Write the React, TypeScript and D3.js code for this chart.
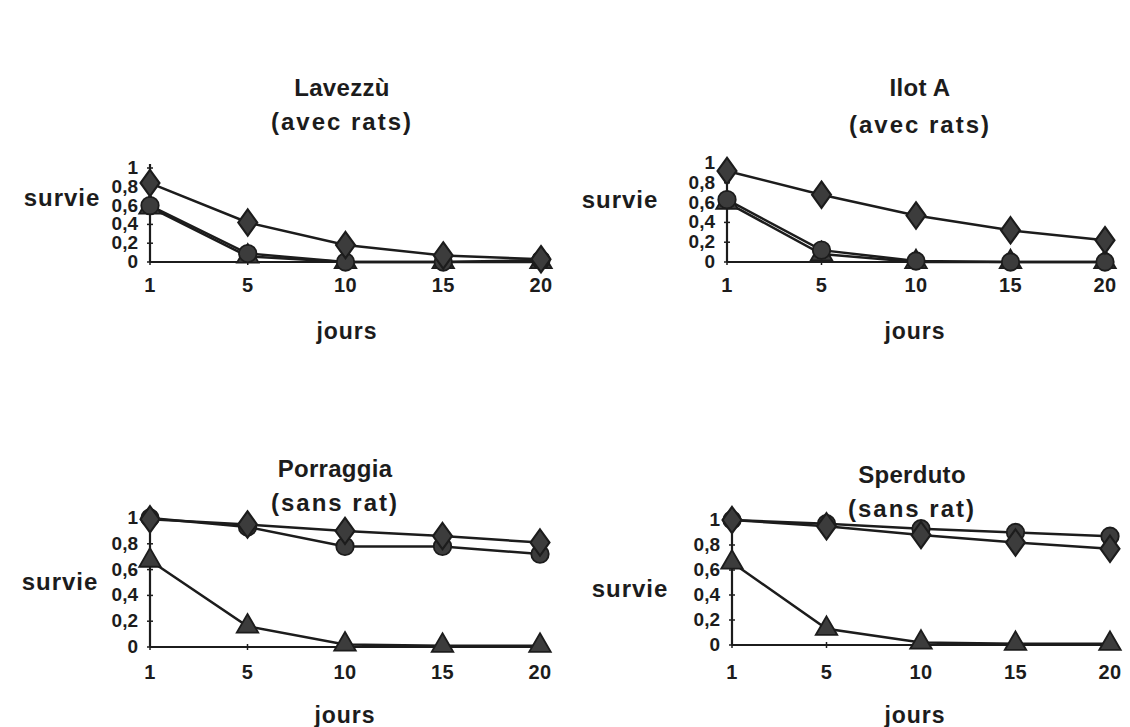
import React from "react";
import * as d3 from "d3";

const days = ["1", "5", "10", "15", "20"];
const yTicks = [0, 0.2, 0.4, 0.6, 0.8, 1];
const yTickLabels = ["0", "0,2", "0,4", "0,6", "0,8", "1"];

const titles = [
  ["Lavezzù", "(avec rats)"],
  ["Ilot A", "(avec rats)"],
  ["Porraggia", "(sans rat)"],
  ["Sperduto", "(sans rat)"],
];

// series per panel: diamond, circle, triangle
const lavezzuDiamond = [0.84, 0.42, 0.18, 0.07, 0.03];
const lavezzuCircle = [0.6, 0.09, 0.0, 0.0, 0.02];
const lavezzuTriangle = [0.58, 0.06, 0.0, 0.0, 0.0];

const ilotDiamond = [0.92, 0.68, 0.47, 0.32, 0.22];
const ilotCircle = [0.63, 0.12, 0.01, 0.0, 0.0];
const ilotTriangle = [0.6, 0.08, 0.0, 0.0, 0.0];

const porraggiaDiamond = [0.99, 0.95, 0.9, 0.86, 0.81];
const porraggiaCircle = [1.0, 0.93, 0.78, 0.78, 0.72];
const porraggiaTriangle = [0.67, 0.16, 0.02, 0.01, 0.01];

const sperdutoDiamond = [1.0, 0.95, 0.88, 0.82, 0.77];
const sperdutoCircle = [1.0, 0.97, 0.93, 0.9, 0.87];
const sperdutoTriangle = [0.66, 0.13, 0.02, 0.01, 0.01];

const panelData = [
  { diamond: lavezzuDiamond, circle: lavezzuCircle, triangle: lavezzuTriangle },
  { diamond: ilotDiamond, circle: ilotCircle, triangle: ilotTriangle },
  { diamond: porraggiaDiamond, circle: porraggiaCircle, triangle: porraggiaTriangle },
  { diamond: sperdutoDiamond, circle: sperdutoCircle, triangle: sperdutoTriangle },
];

// layout
const layouts = [
  { x0: 150, x1: 541, y0: 262, y1: 168, titleX: 342, t1: 96, t2: 130, survieX: 62, survieY: 206, joursX: 347, joursY: 339, xLabY: 292 },
  { x0: 727, x1: 1105, y0: 262, y1: 163, titleX: 920, t1: 96, t2: 133, survieX: 620, survieY: 208, joursX: 915, joursY: 339, xLabY: 292 },
  { x0: 150, x1: 540, y0: 647, y1: 518, titleX: 335, t1: 477, t2: 511, survieX: 60, survieY: 590, joursX: 345, joursY: 723, xLabY: 679 },
  { x0: 732, x1: 1110, y0: 645, y1: 520, titleX: 912, t1: 483, t2: 517, survieX: 630, survieY: 597, joursX: 915, joursY: 723, xLabY: 679 },
];

const FONT = "'Liberation Sans', Arial, Helvetica, sans-serif";
const INK = "#1c1c1c";
const FILL = "#3c3c3c";

function Marker({ kind, x, y }: { kind: string; x: number; y: number }) {
  let type = d3.symbolDiamond;
  let size = 200;
  if (kind === "circle") { type = d3.symbolCircle; size = 240; }
  if (kind === "triangle") { type = d3.symbolTriangle; size = 200; }
  const path = d3.symbol().type(type).size(size)() as string;
  const t = kind === "diamond" ? `translate(${x},${y}) scale(1.25,1)` : `translate(${x},${y})`;
  return <path d={path} transform={t} fill={FILL} stroke={INK} strokeWidth={1.8} />;
}

function Panel({ idx }: { idx: number }) {
  const L = layouts[idx];
  const D = panelData[idx];
  const x = d3.scalePoint<string>().domain(days).range([L.x0, L.x1]);
  const y = d3.scaleLinear().domain([0, 1]).range([L.y0, L.y1]);
  const line = d3
    .line<number>()
    .x((_, i) => x(days[i]) as number)
    .y((v) => y(v));
  const order: [string, number[]][] = [
    ["triangle", D.triangle],
    ["circle", D.circle],
    ["diamond", D.diamond],
  ];
  const txt = { fontWeight: "bold", fill: INK, fontFamily: FONT } as const;
  return (
    <g>
      <text x={L.titleX} y={L.t1} textAnchor="middle" fontSize={24} letterSpacing={0.3} {...txt}>
        {titles[idx][0]}
      </text>
      <text x={L.titleX} y={L.t2} textAnchor="middle" fontSize={24} letterSpacing={2} {...txt}>
        {titles[idx][1]}
      </text>
      {/* axes */}
      <line x1={L.x0} x2={L.x0} y1={y(0)} y2={y(1) - 4} stroke={INK} strokeWidth={2.2} />
      <line x1={L.x0} x2={L.x1} y1={y(0)} y2={y(0)} stroke={INK} strokeWidth={2.2} />
      {yTicks.map((t, i) => (
        <g key={"yt" + i}>
          <line x1={L.x0 - 3} x2={L.x0 + 3} y1={y(t)} y2={y(t)} stroke={INK} strokeWidth={1.5} />
          <text x={L.x0 - 12} y={y(t) + 6} textAnchor="end" fontSize={19} {...txt}>
            {yTickLabels[i]}
          </text>
        </g>
      ))}
      {days.map((d) => (
        <g key={"xt" + d}>
          <line x1={x(d)} x2={x(d)} y1={y(0) - 3} y2={y(0) + 3} stroke={INK} strokeWidth={1.5} />
          <text x={x(d)} y={L.xLabY} textAnchor="middle" fontSize={20} letterSpacing={0.5} {...txt}>
            {d}
          </text>
        </g>
      ))}
      <text x={L.survieX} y={L.survieY} textAnchor="middle" fontSize={24} letterSpacing={1} {...txt}>
        survie
      </text>
      <text x={L.joursX} y={L.joursY} textAnchor="middle" fontSize={23} letterSpacing={1} {...txt}>
        jours
      </text>
      {order.map(([k, vals]) => (
        <path key={"l" + k} d={line(vals) as string} fill="none" stroke={INK} strokeWidth={2.5} />
      ))}
      {order.map(([k, vals]) =>
        vals.map((v, i) => <Marker key={k + i} kind={k} x={x(days[i]) as number} y={y(v)} />)
      )}
    </g>
  );
}

export default function App() {
  return (
    <svg width={1130} height={727} style={{ position: "absolute", left: 0, top: 0, background: "#fff" }}>
      <rect x={0} y={0} width={1130} height={727} fill="#fff" />
      {[0, 1, 2, 3].map((i) => (
        <Panel key={i} idx={i} />
      ))}
    </svg>
  );
}
